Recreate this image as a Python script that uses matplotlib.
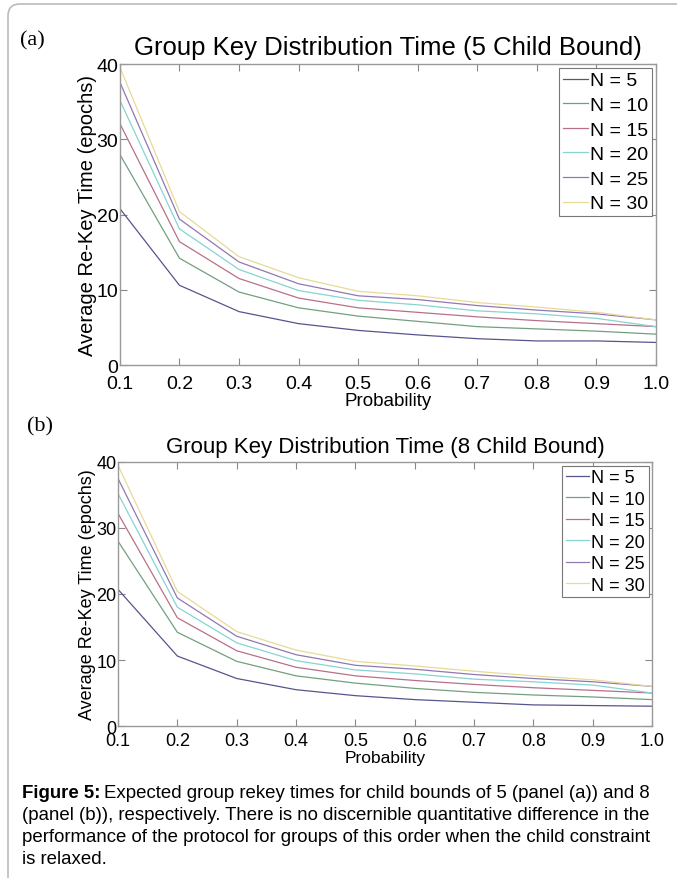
import matplotlib
matplotlib.use('Agg')
import matplotlib.pyplot as plt
from matplotlib.patches import FancyBboxPatch
from matplotlib.transforms import IdentityTransform

plt.rcParams['font.family'] = ['Liberation Sans', 'DejaVu Sans']

# probability values on the x axis
prob = [0.1, 0.2, 0.3, 0.4, 0.5, 0.6, 0.7, 0.8, 0.9, 1.0]
labels = ['N = 5', 'N = 10', 'N = 15', 'N = 20', 'N = 25', 'N = 30']
colors = ['#55558e', '#72a07f', '#b87088', '#86d4d4', '#9078b4', '#e8da96']

# panel (a): 5 child bound
a_n5 = [20.8, 10.6, 7.1, 5.5, 4.6, 4.0, 3.5, 3.2, 3.2, 3.0]
a_n10 = [28.0, 14.2, 9.7, 7.6, 6.5, 5.8, 5.1, 4.8, 4.5, 4.1]
a_n15 = [32.1, 16.4, 11.5, 8.9, 7.6, 7.0, 6.4, 5.9, 5.5, 5.1]
a_n20 = [35.2, 18.1, 12.7, 9.9, 8.6, 8.0, 7.2, 6.8, 6.2, 5.1]
a_n25 = [37.6, 19.4, 13.7, 10.8, 9.2, 8.7, 7.9, 7.3, 6.8, 6.0]
a_n30 = [39.6, 20.4, 14.4, 11.6, 9.8, 9.2, 8.3, 7.7, 7.0, 6.0]

# panel (b): 8 child bound
b_n5 = [20.7, 10.6, 7.2, 5.5, 4.6, 4.0, 3.6, 3.2, 3.1, 3.0]
b_n10 = [28.0, 14.2, 9.8, 7.6, 6.5, 5.7, 5.1, 4.7, 4.4, 4.0]
b_n15 = [32.2, 16.4, 11.4, 8.9, 7.6, 6.9, 6.3, 5.8, 5.4, 5.0]
b_n20 = [35.2, 18.0, 12.6, 9.9, 8.5, 7.9, 7.1, 6.7, 6.2, 5.0]
b_n25 = [37.5, 19.4, 13.6, 10.8, 9.2, 8.6, 7.8, 7.2, 6.7, 6.0]
b_n30 = [39.5, 20.4, 14.3, 11.5, 9.8, 9.1, 8.3, 7.6, 7.0, 6.0]

fig = plt.figure(figsize=(6.77, 8.79), dpi=100)


def panel(rect, series, title, tsize, fsize, ysize, leg_space, xpad, xlpad):
    ax = fig.add_axes(rect)
    for ys, c, lab in zip(series, colors, labels):
        ax.plot(prob, ys, color=c, lw=0.9, label=lab)
    ax.set_xlim(0.1, 1.0)
    ax.set_ylim(0, 40)
    ax.set_xticks(prob)
    ax.set_xticklabels(['%.1f' % p for p in prob])
    ax.set_yticks([0, 10, 20, 30, 40])
    ax.tick_params(direction='in', top=True, right=True, length=5,
                   color='#888888', labelsize=fsize)
    ax.tick_params(axis='x', pad=xpad)
    ax.tick_params(axis='y', pad=1)
    for s in ax.spines.values():
        s.set_color('#999999')
        s.set_linewidth(1.0)
    ax.set_title(title, fontsize=tsize, pad=7)
    ax.set_xlabel('Probability', fontsize=fsize - 0.5, labelpad=xlpad)
    ax.set_ylabel('Average Re-Key Time (epochs)', fontsize=ysize, labelpad=0)
    leg = ax.legend(loc='upper right', fontsize=fsize, handlelength=1.3,
                    handletextpad=0.1, labelspacing=leg_space, borderpad=0.2,
                    borderaxespad=0.2, fancybox=False, framealpha=1)
    leg.get_frame().set_edgecolor('#777777')
    leg.get_frame().set_linewidth(0.8)
    return ax


panel([0.177, 0.5836, 0.792, 0.3424],
      [a_n5, a_n10, a_n15, a_n20, a_n25, a_n30],
      'Group Key Distribution Time (5 Child Bound)', 18.5, 14, 14.5, 0.36, 7.5, 0)
panel([0.1743, 0.1729, 0.789, 0.3004],
      [b_n5, b_n10, b_n15, b_n20, b_n25, b_n30],
      'Group Key Distribution Time (8 Child Bound)', 16, 13, 13, 0.25, 4, 1)

fig.text(20 / 677, 1 - 41 / 879, '(a)', family='Liberation Serif', fontsize=16, va='center')
fig.text(27 / 677, 1 - 427 / 879, '(b)', family='Liberation Serif', fontsize=16, va='center')

caption = [
    'Expected group rekey times for child bounds of 5 (panel (a)) and 8',
    '(panel (b)), respectively. There is no discernible quantitative difference in the',
    'performance of the protocol for groups of this order when the child constraint',
    'is relaxed.',
]
cap_y = [794, 816, 838, 860]
cap_size = 13.4
t = fig.text(22 / 677, 1 - cap_y[0] / 879, 'Figure 5:', fontsize=cap_size, weight='bold', va='center')
fig.canvas.draw()
bb = t.get_window_extent()
fig.text((bb.x1 + 4) / 677, 1 - cap_y[0] / 879, caption[0], fontsize=cap_size, va='center')
for line, yy in zip(caption[1:], cap_y[1:]):
    fig.text(22 / 677, 1 - yy / 879, line, fontsize=cap_size, va='center')

# rounded frame around the figure (open at right and bottom)
frame = FancyBboxPatch((8, -30), 720, 879 - 5 + 30,
                       boxstyle='round,pad=0,rounding_size=12',
                       transform=IdentityTransform(), fill=False,
                       edgecolor='#bbbbbb', linewidth=1.2, clip_on=False)
fig.add_artist(frame)

plt.savefig('out.png', dpi=100)
plt.close(fig)
